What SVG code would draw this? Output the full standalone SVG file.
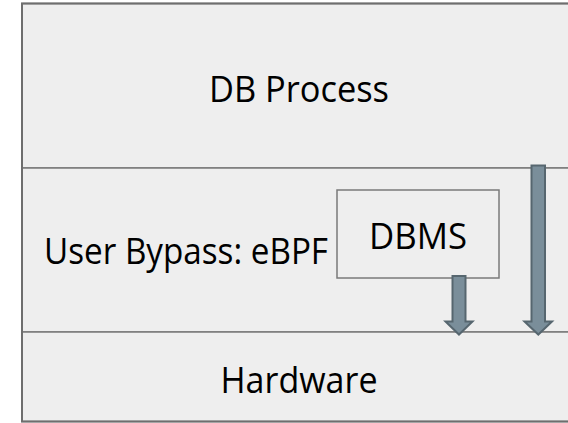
<svg xmlns="http://www.w3.org/2000/svg" width="568" height="423" viewBox="0 0 568 423">
  <style>
    .layer { fill: #eeeeee; stroke: #7a7a7a; stroke-width: 1.5; }
    .outer { fill: none; stroke: #6e6e6e; stroke-width: 2; }
    .box { fill: #eeeeee; stroke: #7a7a7a; stroke-width: 1.5; }
    .label { font-family: "Open Sans", "Noto Sans", "Liberation Sans", sans-serif; font-size: 36px; fill: #000000; }
    .arrow { fill: #7a8e9a; stroke: #56666f; stroke-width: 2; stroke-linejoin: miter; }
  </style>
  <rect width="568" height="423" fill="#ffffff"/>

  <g id="db-process">
    <rect class="layer" x="22" y="3.5" width="560" height="164.5"/>
    <text class="label" x="299" y="101.5" text-anchor="middle" textLength="180" lengthAdjust="spacingAndGlyphs">DB Process</text>
  </g>

  <g id="user-bypass">
    <rect class="layer" x="22" y="168" width="560" height="164"/>
    <text class="label" x="44" y="264" textLength="284" lengthAdjust="spacingAndGlyphs">User Bypass: eBPF</text>
  </g>

  <g id="hardware">
    <rect class="layer" x="22" y="332" width="560" height="89.5"/>
    <text class="label" x="299" y="393" text-anchor="middle" textLength="157" lengthAdjust="spacingAndGlyphs">Hardware</text>
  </g>

  <g id="dbms">
    <rect class="box" x="337" y="190" width="162" height="88"/>
    <text class="label" x="418" y="249" text-anchor="middle" textLength="98" lengthAdjust="spacingAndGlyphs">DBMS</text>
  </g>

  <rect class="outer" x="22" y="3.5" width="560" height="418"/>

  <g id="connectors">
    <!-- DBMS down to hardware -->
    <path class="arrow" d="M452.5,276 L465.5,276 L465.5,321.5 L472.5,321.5 L459,334.5 L445.5,321.5 L452.5,321.5 Z"/>
    <!-- DB process straight through to hardware -->
    <path class="arrow" d="M531.5,165.5 L545,165.5 L545,321.5 L552,321.5 L538.3,334.5 L524.5,321.5 L531.5,321.5 Z"/>
  </g>
</svg>
